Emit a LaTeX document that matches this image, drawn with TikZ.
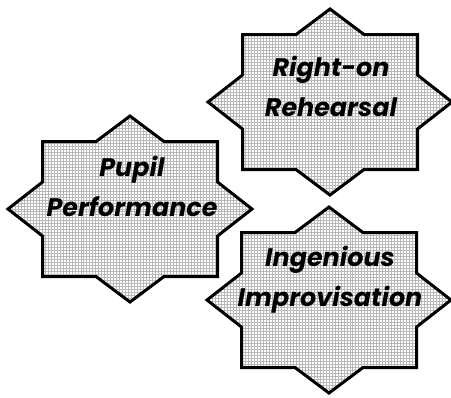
\documentclass[tikz,border=0pt]{standalone}
\usepackage{fontspec}
\setmainfont{Poppins}
\usetikzlibrary{patterns}

% eight-pointed badge: a square laid over a diamond
\tikzset{
  badge/.style={line width=3bp, line join=miter, draw=black, pattern=grid, pattern color=gray!55},
  badgetext/.style={align=center, font=\fontsize{25.5}{40}\selectfont\bfseries\itshape},
  octastar/.pic={
    \path[badge] (0,-93) -- (34,-67.5) -- (87.5,-67.5) -- (87.5,-27) -- (122,0)
      -- (87.5,27) -- (87.5,67.5) -- (34,67.5) -- (0,93) -- (-34,67.5)
      -- (-87.5,67.5) -- (-87.5,27) -- (-122,0) -- (-87.5,-27)
      -- (-87.5,-67.5) -- (-34,-67.5) -- cycle;
  }
}

\begin{document}
\begin{tikzpicture}[x=1bp, y=-1bp]
  \useasboundingbox (0,0) rectangle (451,397);

  % the three badges
  \pic at (330,102) {octastar};
  \pic at (130,209) {octastar};
  \pic at (329,300) {octastar};

  % their labels
  \node[badgetext] (rehearsal) at (331,86) {Right-on\\Rehearsal};
  \node[badgetext] (performance) at (132,186) {Pupil\\Performance};
  \node[badgetext] (improvisation) at (330,280) {Ingenious\\Improvisation};
\end{tikzpicture}
\end{document}
